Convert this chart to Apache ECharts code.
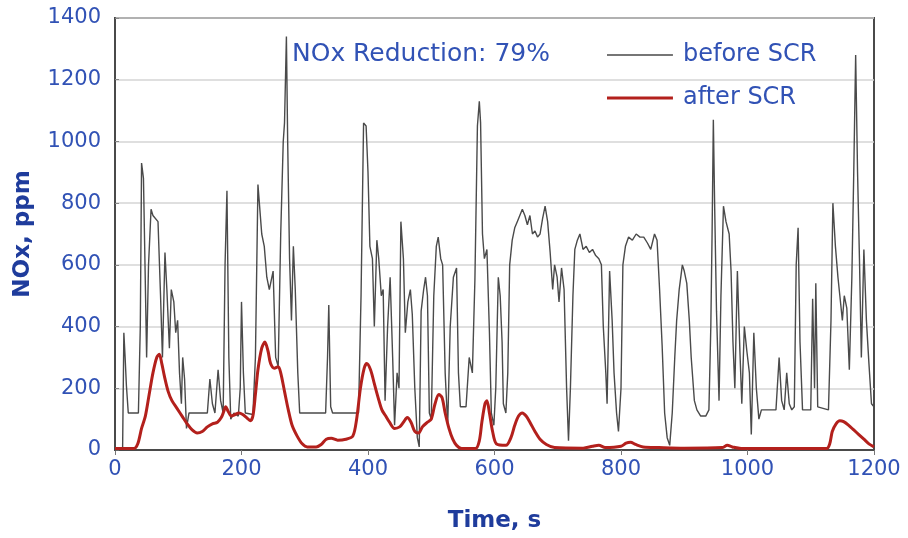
<!DOCTYPE html>
<html>
<head>
<meta charset="utf-8">
<script src="https://cdn.jsdelivr.net/npm/echarts@6/dist/echarts.min.js"></script>
<style>
    html, body { margin: 0; padding: 0; background: #fff; }
    #chart { width: 908px; height: 538px; }
</style>
</head>
<body>
<div id="chart"></div>
<script>
// time axis ticks
const timeTicks = [0, 200, 400, 600, 800, 1000, 1200];
const noxTicks = [0, 200, 400, 600, 800, 1000, 1200, 1400];

// before SCR (time, s / NOx, ppm)
const beforeTime = [0, 12, 14, 16, 18, 21, 37, 40, 42, 45, 47, 50, 53, 57, 60, 68, 72, 75, 79, 82, 86, 89, 93, 96, 99, 102, 105, 107, 110, 113, 117, 146, 150, 154, 158, 163, 167, 171, 174, 177, 180, 183, 188, 195, 198, 200, 203, 206, 218, 222, 226, 232, 236, 240, 244, 247, 250, 254, 258, 262, 266, 268, 271, 273, 276, 279, 282, 285, 289, 292, 333, 336, 338, 341, 344, 385, 389, 393, 397, 400, 403, 407, 410, 414, 417, 421, 424, 427, 431, 435, 439, 442, 446, 449, 452, 456, 459, 463, 467, 470, 474, 478, 481, 484, 488, 491, 494, 497, 500, 504, 508, 511, 515, 518, 522, 526, 530, 535, 540, 543, 546, 555, 560, 565, 569, 573, 576, 578, 581, 584, 588, 592, 595, 599, 602, 606, 609, 612, 614, 618, 621, 624, 628, 632, 636, 640, 644, 648, 652, 656, 660, 664, 668, 672, 676, 680, 684, 688, 692, 695, 699, 702, 706, 710, 714, 717, 720, 724, 727, 731, 735, 740, 745, 750, 755, 760, 765, 769, 772, 776, 778, 782, 786, 789, 793, 796, 800, 803, 807, 812, 818, 824, 830, 836, 842, 847, 853, 857, 861, 865, 869, 873, 877, 881, 885, 888, 892, 897, 900, 904, 908, 911, 916, 920, 926, 934, 939, 942, 944, 946, 948, 951, 955, 958, 962, 966, 971, 974, 977, 980, 984, 988, 991, 995, 999, 1003, 1006, 1010, 1014, 1018, 1022, 1045, 1050, 1054, 1058, 1062, 1066, 1070, 1074, 1077, 1080, 1083, 1087, 1100, 1103, 1106, 1108, 1111, 1128, 1132, 1135, 1139, 1143, 1146, 1150, 1153, 1157, 1161, 1165, 1168, 1171, 1174, 1177, 1180, 1184, 1188, 1192, 1196, 1200];
const beforeNox = [0, 0, 380, 300, 210, 120, 120, 400, 930, 880, 650, 300, 600, 780, 760, 740, 500, 300, 640, 520, 330, 520, 480, 380, 420, 250, 150, 300, 230, 70, 120, 120, 230, 150, 120, 260, 160, 120, 600, 840, 300, 100, 120, 110, 200, 480, 250, 120, 115, 300, 860, 700, 660, 560, 520, 520, 580, 300, 270, 700, 1000, 1060, 1340, 1000, 620, 420, 660, 520, 250, 120, 120, 300, 470, 140, 120, 120, 500, 1060, 1050, 900, 660, 620, 400, 680, 620, 500, 520, 160, 400, 560, 300, 80, 250, 200, 740, 620, 380, 480, 520, 440, 200, 40, 10, 450, 520, 560, 500, 120, 100, 500, 660, 690, 620, 600, 250, 80, 400, 560, 590, 250, 140, 140, 300, 250, 550, 1050, 1130, 1060, 700, 620, 650, 380, 120, 80, 200, 560, 500, 350, 150, 120, 250, 600, 680, 720, 740, 760, 780, 760, 730, 760, 700, 710, 690, 700, 750, 790, 740, 640, 520, 600, 560, 480, 590, 520, 200, 30, 200, 500, 650, 680, 700, 650, 660, 640, 650, 630, 620, 600, 400, 250, 150, 580, 420, 250, 120, 60, 200, 600, 660, 690, 680, 700, 690, 690, 670, 650, 700, 680, 520, 340, 120, 40, 15, 120, 300, 420, 520, 600, 580, 540, 420, 300, 160, 130, 110, 110, 130, 400, 700, 1070, 800, 450, 160, 500, 790, 740, 700, 580, 350, 200, 580, 320, 150, 400, 320, 250, 50, 380, 200, 100, 130, 130, 300, 160, 130, 250, 150, 130, 140, 600, 720, 350, 130, 130, 490, 200, 540, 140, 130, 420, 800, 660, 560, 500, 420, 500, 460, 260, 560, 900, 1280, 900, 620, 300, 650, 420, 280, 150, 140];

// after SCR
const afterTime = [0, 30, 36, 42, 48, 54, 60, 66, 70, 74, 78, 84, 90, 98, 106, 114, 122, 130, 138, 146, 154, 162, 168, 172, 175, 179, 184, 190, 196, 202, 208, 214, 218, 222, 226, 232, 237, 242, 246, 252, 258, 262, 268, 274, 280, 288, 296, 304, 318, 326, 334, 342, 352, 365, 376, 382, 388, 394, 398, 404, 410, 416, 422, 428, 434, 442, 450, 456, 462, 468, 474, 480, 486, 494, 500, 506, 512, 517, 522, 528, 534, 540, 548, 570, 576, 580, 585, 588, 592, 597, 603, 618, 626, 632, 638, 644, 650, 656, 664, 672, 682, 695, 740, 755, 765, 775, 800, 808, 815, 823, 835, 860, 900, 960, 968, 976, 990, 1125, 1130, 1134, 1140, 1146, 1152, 1160, 1168, 1176, 1184, 1192, 1200];
const afterNox = [5, 5, 20, 70, 110, 180, 250, 300, 310, 280, 240, 190, 160, 135, 110, 85, 65, 55, 60, 75, 85, 90, 105, 125, 140, 125, 110, 115, 120, 115, 105, 95, 110, 180, 260, 330, 350, 320, 280, 265, 270, 250, 190, 130, 80, 45, 20, 10, 10, 18, 35, 38, 32, 35, 45, 100, 200, 265, 280, 260, 215, 170, 130, 110, 90, 70, 75, 90, 105, 90, 60, 55, 75, 90, 100, 150, 180, 170, 120, 70, 35, 15, 5, 5, 30, 90, 150, 160, 120, 60, 20, 15, 40, 80, 110, 120, 110, 90, 60, 35, 18, 8, 6, 12, 15, 8, 12, 22, 25, 18, 10, 8, 6, 8, 15, 10, 5, 5, 20, 60, 85, 95, 92, 80, 65, 50, 35, 20, 10];

const pair = (ts, vs) => ts.map((t, i) => [t, vs[i]]);

const blue = '#3152b5';
const darkBlue = '#1f3c9c';
const font = 'DejaVu Sans, Verdana, sans-serif';
const beforeColor = '#4a4a4a';
const afterColor = '#b3201c';

// legend swatches: plain line segments (thin / thick) centred in a 66x12 box
const thinIcon = 'path://M0,0h66v0.01h-66z M0,5.3h66v1.4h-66z M0,12h66v0.01h-66z';
const thickIcon = 'path://M0,0h66v0.01h-66z M0,4.5h66v3h-66z M0,12h66v0.01h-66z';

const chart = echarts.init(document.getElementById('chart'));

chart.setOption({
    animation: false,
    backgroundColor: '#fff',
    textStyle: {fontFamily: font},
    title: {
        text: 'NOx Reduction: 79%',
        left: 292,
        top: 42,
        padding: 0,
        textStyle: {color: blue, fontSize: 25, fontWeight: 'normal', fontFamily: font}
    },
    legend: {
        orient: 'vertical',
        left: 607,
        top: 43,
        padding: 0,
        itemWidth: 66,
        itemHeight: 12,
        itemGap: 19,
        textStyle: {color: blue, fontSize: 24, fontFamily: font, padding: [0, 0, 0, 5]},
        data: [
            {name: 'before SCR', icon: thinIcon, itemStyle: {color: beforeColor}},
            {name: 'after SCR', icon: thickIcon, itemStyle: {color: afterColor}}
        ]
    },
    grid: {
        left: 115,
        right: 34,
        top: 18,
        bottom: 88,
        show: true,
        borderColor: '#4a4a4a',
        borderWidth: 2
    },
    xAxis: {
        type: 'value',
        min: timeTicks[0],
        max: timeTicks[timeTicks.length - 1],
        interval: 200,
        name: 'Time, s',
        nameLocation: 'middle',
        nameGap: 60,
        nameTextStyle: {color: darkBlue, fontSize: 23, fontWeight: 'bold', fontFamily: font},
        axisLine: {show: true, lineStyle: {color: '#4a4a4a', width: 2}},
        axisTick: {show: true, length: 5, lineStyle: {color: '#777'}},
        axisLabel: {color: blue, fontSize: 21, margin: 9, fontFamily: font, formatter: v => String(v)},
        splitLine: {show: false}
    },
    yAxis: {
        type: 'value',
        min: noxTicks[0],
        max: noxTicks[noxTicks.length - 1],
        interval: 200,
        name: 'NOx, ppm',
        nameLocation: 'middle',
        nameGap: 80,
        nameTextStyle: {color: darkBlue, fontSize: 23, fontWeight: 'bold', fontFamily: font},
        axisLine: {show: true, lineStyle: {color: '#4a4a4a', width: 2}},
        axisTick: {show: true, inside: true, length: 4, lineStyle: {color: '#888'}},
        axisLabel: {color: blue, fontSize: 21, margin: 14, fontFamily: font, formatter: v => String(v)},
        splitLine: {lineStyle: {color: '#d4d4d4', width: 1.5}}
    },
    series: [
        {
            name: 'before SCR',
            type: 'line',
            symbol: 'none',
            data: pair(beforeTime, beforeNox),
            lineStyle: {color: beforeColor, width: 1.4},
            itemStyle: {color: beforeColor},
            z: 2
        },
        {
            name: 'after SCR',
            type: 'line',
            symbol: 'none',
            smooth: 0.3,
            data: pair(afterTime, afterNox),
            lineStyle: {color: afterColor, width: 3},
            itemStyle: {color: afterColor},
            z: 3
        }
    ]
});
</script>
</body>
</html>
